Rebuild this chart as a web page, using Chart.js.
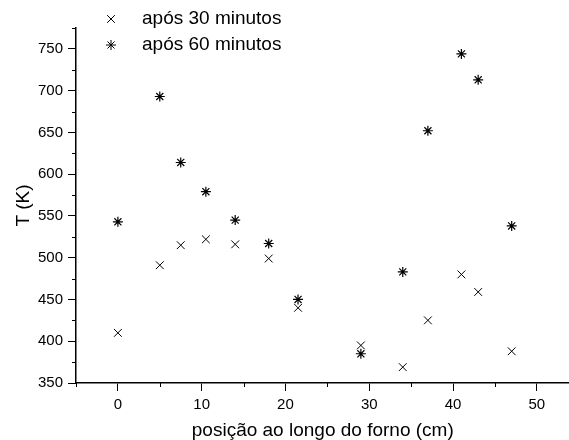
<!DOCTYPE html>
<html>
<head>
<meta charset="utf-8">
<script src="https://cdn.jsdelivr.net/npm/chart.js@4/dist/chart.umd.min.js"></script>
<style>
  html, body { margin: 0; padding: 0; background: #fff; overflow: hidden; }
  #wrap { width: 576px; height: 440px; }
</style>
</head>
<body>
<div id="wrap"><canvas id="chart"></canvas></div>
<script>
// Data
const positions30 = [0, 5, 7.5, 10.5, 14, 18, 21.5, 29, 34, 37, 41, 43, 47];
const temps30 = [410, 491, 515, 522, 516, 499, 440, 395, 369, 425, 480, 459, 388];
const positions60 = [0, 5, 7.5, 10.5, 14, 18, 21.5, 29, 34, 37, 41, 43, 47];
const temps60 = [543, 693, 614, 579, 545, 517, 450, 385, 483, 652, 744, 713, 538];

const seriesLabels = ['após 30 minutos', 'após 60 minutos'];
const xMajorTicks = [0, 10, 20, 30, 40, 50];
const xMinorTicks = [-5, 5, 15, 25, 35, 45];
const yMajorTicks = [350, 400, 450, 500, 550, 600, 650, 700, 750];
const yMinorTicks = [375, 425, 475, 525, 575, 625, 675, 725, 775];

const FONT = 'Arial, "Liberation Sans", Helvetica, sans-serif';

// minor ticks (shorter) + the little legend in the top-left corner
const extrasPlugin = {
    id: 'extras',
    afterDraw(chart) {
        const ctx = chart.ctx;
        const xs = chart.scales.x, ys = chart.scales.y;
        const area = chart.chartArea;
        ctx.save();
        ctx.strokeStyle = '#000';
        ctx.lineWidth = 1;
        ctx.beginPath();
        xMinorTicks.forEach(v => {
            const px = Math.round(xs.getPixelForValue(v)) + 0.5;
            ctx.moveTo(px, area.bottom);
            ctx.lineTo(px, area.bottom + 4);
        });
        yMinorTicks.forEach(v => {
            const py = Math.round(ys.getPixelForValue(v)) + 0.5;
            ctx.moveTo(area.left, py);
            ctx.lineTo(area.left - 4, py);
        });
        ctx.stroke();

        // legend
        const styles = ['crossRot', 'star'];
        const radii = [5.5, 5];
        ctx.font = '19px ' + FONT;
        ctx.fillStyle = '#000';
        ctx.textBaseline = 'middle';
        ctx.textAlign = 'left';
        seriesLabels.forEach((lbl, i) => {
            const y = 19 + i * 26;
            ctx.lineWidth = 1;
            ctx.strokeStyle = '#000';
            Chart.helpers.drawPoint(ctx, { pointStyle: styles[i], radius: radii[i], borderWidth: 1 }, 111, y);
            ctx.fillText(lbl, 142, y);
        });
        ctx.restore();
    }
};

new Chart(document.getElementById('chart'), {
    type: 'scatter',
    data: {
        datasets: [{
            label: seriesLabels[0],
            data: positions30.map((x, i) => ({ x: x, y: temps30[i] })),
            pointStyle: 'crossRot',
            pointRadius: 5.5,
            borderColor: '#000',
            backgroundColor: '#000',
            borderWidth: 1
        }, {
            label: seriesLabels[1],
            data: positions60.map((x, i) => ({ x: x, y: temps60[i] })),
            pointStyle: 'star',
            pointRadius: 5,
            borderColor: '#000',
            backgroundColor: '#000',
            borderWidth: 1.2
        }]
    },
    options: {
        responsive: true,
        maintainAspectRatio: false,
        animation: false,
        layout: { padding: { top: 28, right: 0, left: 0, bottom: 0 } },
        plugins: {
            legend: { display: false },
            tooltip: { enabled: false }
        },
        scales: {
            x: {
                type: 'linear',
                min: -5,
                max: 53.9,
                afterBuildTicks: s => { s.ticks = xMajorTicks.map(v => ({ value: v })); },
                afterFit: s => { s.height = 57; },
                border: { display: true, color: '#000', width: 1.5 },
                grid: { drawOnChartArea: false, drawTicks: true, tickLength: 8, tickColor: '#000', tickWidth: 1 },
                ticks: { color: '#000', padding: 5, maxRotation: 0, font: { family: FONT, size: 15 } },
                title: {
                    display: true,
                    text: 'posição ao longo do forno (cm)',
                    color: '#000',
                    font: { family: FONT, size: 19 },
                    padding: { top: 0, bottom: -2 }
                }
            },
            y: {
                type: 'linear',
                min: 350,
                max: 775,
                afterBuildTicks: s => { s.ticks = yMajorTicks.map(v => ({ value: v })); },
                afterFit: s => { s.width = 76; },
                border: { display: true, color: '#000', width: 1.5 },
                grid: { drawOnChartArea: false, drawTicks: true, tickLength: 8, tickColor: '#000', tickWidth: 1 },
                ticks: { color: '#000', padding: 5, font: { family: FONT, size: 15 } },
                title: {
                    display: true,
                    text: 'T (K)',
                    color: '#000',
                    font: { family: FONT, size: 19 },
                    padding: { top: 12, bottom: 0 }
                }
            }
        }
    },
    plugins: [extrasPlugin]
});
</script>
</body>
</html>
